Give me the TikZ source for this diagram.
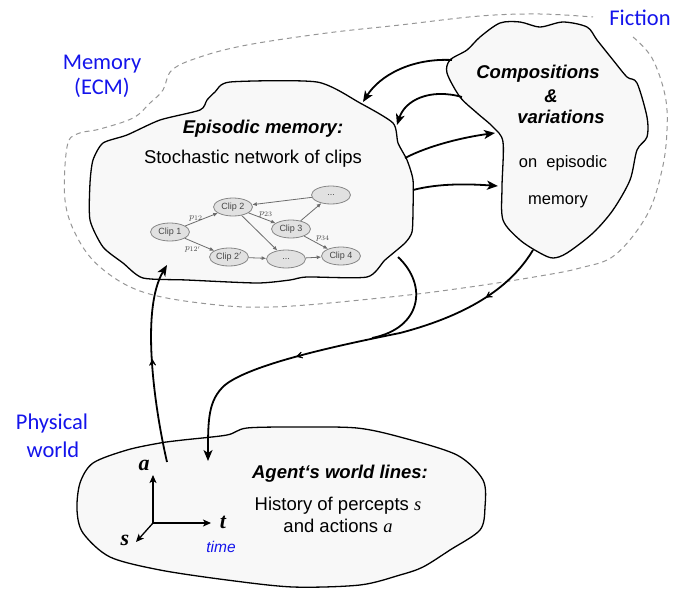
\documentclass[tikz,border=0pt]{standalone}
\usepackage{fontspec}
\setmainfont{Liberation Sans}
\newfontfamily\calfont{Carlito}
\newfontfamily\timesfont{Liberation Serif}
\usetikzlibrary{arrows.meta,decorations.markings,shapes.geometric}
\definecolor{blobfill}{RGB}{248,248,248}
\definecolor{lblue}{RGB}{20,20,235}
\definecolor{dashgray}{RGB}{150,150,150}
\definecolor{clipfill}{RGB}{225,225,225}
\definecolor{clipline}{RGB}{135,135,135}
\definecolor{cliptext}{RGB}{70,70,70}
\begin{document}
\begin{tikzpicture}[x=1pt,y=-1pt,
  blob/.style={draw=black, line width=1.3pt, fill=blobfill, line join=round},
  region/.style={draw=dashgray, line width=1pt, dash pattern=on 5pt off 4pt},
  conn/.style={draw=black, line width=1.8pt, -{Stealth[length=11pt,width=9pt,inset=3pt]}},
  midtip/.tip={Stealth[length=10pt,width=11pt,inset=6.5pt]},
  midarrows/.style={postaction={decorate, decoration={markings, mark=at position #1 with {\arrow{midtip}}}}},
  axis/.style={draw=black, line width=1.3pt, -{Stealth[length=8pt,width=7pt,inset=2pt]}},
  bluelabel/.style={text=lblue, font=\calfont\fontsize{22.5}{26}\selectfont, anchor=base},
  title/.style={font=\bfseries\itshape\fontsize{18.5}{22}\selectfont, anchor=base},
  body/.style={font=\fontsize{18.5}{22}\selectfont, anchor=base},
  smallbody/.style={font=\fontsize{16.5}{20}\selectfont, anchor=base},
  clipnode/.style={ellipse, minimum width=39pt, minimum height=18pt, inner sep=0pt, fill=clipfill, draw=clipline, line width=0.8pt, text=cliptext, font=\fontsize{9}{10}\selectfont},
  clipedge/.style={draw=clipline!80!black, line width=0.8pt, -{Latex[length=4.5pt,width=4pt]}},
  plabel/.style={text=cliptext, font=\fontsize{9.5}{10}\selectfont},
  axlabel/.style={font=\timesfont\bfseries\itshape\fontsize{22}{24}\selectfont, anchor=base}
]
\useasboundingbox (0,0) rectangle (690,589);

% dashed region (memory + fiction)
\draw[region] plot[smooth, tension=0.6] coordinates {(633,37) (652,58) (665,95) (667,130) (662,170) (647,215) (615,255) (580,268) (540,276) (470,287) (390,297) (273,307) (200,303) (140,291) (100,267) (77,237) (65,200) (67,147) (77,134) (100,129) (133,118) (150,103) (163,90) (172,70) (200,57) (247,45) (327,33) (400,25) (480,16) (540,14) (593,17)};

% episodic memory blob
\draw[blob] plot[smooth cycle, tension=0.4] coordinates {(230,82) (317,82) (360,103) (393,123) (398,143) (407,160) (413,180) (413,210) (412,232) (405,243) (385,260) (367,277) (307,277) (290,280) (257,283) (187,280) (143,278) (123,263) (103,247) (90,220) (90,183) (93,160) (103,143) (127,135) (160,120) (200,110) (207,100) (215,92)};

% compositions blob
\draw[blob] plot[smooth cycle, tension=0.5] coordinates {(450,60) (447,73) (460,97) (477,113) (493,127) (503,142) (502,187) (503,220) (520,240) (540,253) (553,258) (567,253) (593,233) (613,210) (630,180) (637,150) (647,137) (647,117) (637,83) (627,77) (613,60) (597,40) (587,27) (563,22) (540,27) (520,22) (500,23) (480,37) (467,50)};

% physical world blob
\draw[blob] plot[smooth cycle, tension=0.5] coordinates {(160,443) (183,440) (227,435) (247,428) (300,427) (357,428) (400,437) (457,455) (483,480) (485,507) (480,530) (450,550) (423,567) (400,575) (360,585) (293,587) (227,580) (160,570) (110,557) (83,533) (77,510) (80,483) (93,463) (127,450)};

% connection points
\coordinate (physOut) at (167,462);
\coordinate (epiIn) at (167,265);
\coordinate (compOut) at (533,250);
\coordinate (physIn) at (208,461);
\coordinate (epiOut) at (398,257);
\coordinate (join) at (372,338);
\coordinate (compA) at (452,60);
\coordinate (epiA) at (363,102);
\coordinate (compB) at (462,97);
\coordinate (epiB) at (397,125);
\coordinate (epiC) at (405,158);
\coordinate (compC) at (495,133);
\coordinate (epiD) at (413,190);
\coordinate (compD) at (498,186);

% clip network
\node[clipnode] (c1) at (170,232) {Clip 1};
\node[clipnode] (c2) at (233,207) {Clip 2};
\node[clipnode] (c3) at (291,229) {Clip 3};
\node[clipnode] (cd1) at (331,195) {...};
\node[clipnode] (c2p) at (229,257) {Clip 2$'$};
\node[clipnode] (cd2) at (286,259) {...};
\node[clipnode] (c4) at (341,256) {Clip 4};
\draw[clipedge] (c1) -- (c2);
\draw[clipedge] (c1) -- (c2p);
\draw[clipedge] (c2) -- (c3);
\draw[clipedge] (c2) -- (cd2);
\draw[clipedge] (c3) -- (cd1);
\draw[clipedge] (cd1) -- (c2);
\draw[clipedge] (c3) -- (c4);
\draw[clipedge] (c2p) -- (cd2);
\draw[clipedge] (cd2) -- (c4);
\node[plabel] (p12) at (196,218) {$p_{12}$};
\node[plabel] (p12b) at (193,249) {$p_{12'}$};
\node[plabel] (p23) at (266,214) {$p_{23}$};
\node[plabel] (p34) at (323,238) {$p_{34}$};

% main connectors
\draw[conn, midarrows=0.52] (physOut) .. controls (155,410) and (140,310) .. (epiIn);
\draw[line width=1.8pt] (epiOut) .. controls (428,285) and (422,328) .. (join);
\draw[conn, midarrows=0.16, midarrows=0.63]
  (compOut) .. controls (515,280) and (480,312) .. (400,333)
  .. controls (330,347) and (250,365) .. (225,385)
  .. controls (208,400) and (208,420) .. (physIn);

\draw[conn] (compA) .. controls (412,58) and (380,75) .. (epiA);
\draw[conn] (compB) .. controls (430,88) and (405,100) .. (epiB);
\draw[conn] (epiC) .. controls (430,145) and (465,137) .. (compC);
\draw[conn] (epiD) .. controls (440,183) and (470,184) .. (compD);

% axes
\coordinate (orig) at (153,523);
\coordinate (aEnd) at (153,475);
\coordinate (tEnd) at (211,523);
\coordinate (sEnd) at (136,542);
\draw[axis] (orig) -- (aEnd);
\draw[axis] (orig) -- (tEnd);
\draw[axis] (orig) -- (sEnd);
\node[axlabel] (la) at (144,470) {a};
\node[axlabel] (lt) at (223,528) {t};
\node[axlabel] (ls) at (125,545) {s};
\node[anchor=base, text=lblue, font=\itshape\fontsize{15.5}{18}\selectfont] (ltime) at (221,552) {time};

% texts
\node[bluelabel] (mem1) at (102,69) {Memory};
\node[bluelabel] (mem2) at (102,94) {(ECM)};
\node[bluelabel] (phys1) at (52,429) {Physical};
\node[bluelabel] (phys2) at (53,457) {world};
\node[bluelabel] (fict) at (640,25) {Fiction};

\node[title] (epiT) at (263,133) {Episodic memory:};
\node[body] (epiS) at (253,163) {Stochastic network of clips};

\node[title] (compT1) at (538,78) {Compositions};
\node[title] (compT2) at (551,102) {\&};
\node[title] (compT3) at (561,123) {variations};
\node[smallbody] (compS1) at (563,167) {on\ \ episodic};
\node[smallbody] (compS2) at (558,204) {memory};

\node[title] (agT) at (340,478) {Agent‘s world lines:};
\node[body] (agS1) at (338,510) {History of percepts {\timesfont\itshape s}};
\node[body] (agS2) at (338,532) {and actions {\timesfont\itshape a}};
\end{tikzpicture}
\end{document}
